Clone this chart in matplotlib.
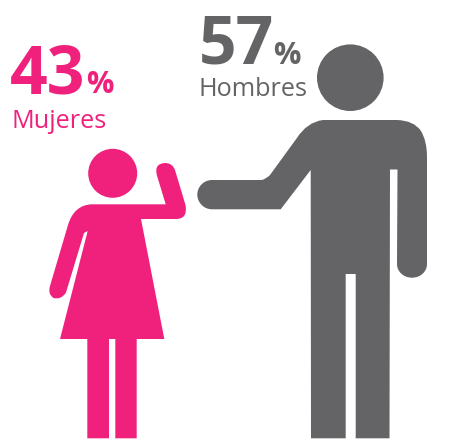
import matplotlib
matplotlib.use("Agg")
import matplotlib.pyplot as plt
from matplotlib.path import Path
from matplotlib.patches import PathPatch, Circle

# data
percents = [43, 57]
labels = ["Mujeres", "Hombres"]
colors = ["#F0217D", "#646466"]


def shape(steps):
    # steps: (x, y) line, (cx, cy, x, y) quadratic, (c1x, c1y, c2x, c2y, x, y) cubic
    verts, codes = [], []
    for i, s in enumerate(steps):
        if len(s) == 2:
            verts.append(s)
            codes.append(Path.MOVETO if i == 0 else Path.LINETO)
        elif len(s) == 4:
            verts += [s[:2], s[2:]]
            codes += [Path.CURVE3] * 2
        else:
            verts += [s[:2], s[2:4], s[4:]]
            codes += [Path.CURVE4] * 3
    verts.append(verts[0])
    codes.append(Path.CLOSEPOLY)
    return Path(verts, codes)


# woman outline in image pixels
woman_body = [
    (91.7, 204.3), (165.7, 204.3), (156.8, 175),
    (154, 163.5, 165, 163), (172.5, 163, 175, 170),
    (185.5, 205), (188, 219, 176, 219), (141, 219),
    (164.3, 339), (136.7, 339), (136.7, 438.3), (115.3, 438.3), (115.3, 339),
    (109, 339), (109, 438.3), (87.3, 438.3), (87.3, 339), (60, 339),
    (87.7, 231), (84, 233), (66, 292.5),
    (61.5, 300, 53.5, 298), (47.5, 294, 50, 286),
    (68, 225), (74, 205, 91.7, 204.3),
]

# man outline in image pixels
man_body = [
    (323, 120), (397, 120), (414, 120.5, 421, 131), (427, 141, 427, 157), (427, 264),
    (427, 272, 420, 277.7, 412, 277.7), (404, 277.7, 397, 272, 397, 264),
    (397.5, 169.5), (390, 169.5),
    (389.5, 438.3), (355.7, 438.3), (355.7, 274), (345.7, 274), (345.7, 438.3),
    (311, 438.3), (310.7, 170), (280.7, 209.3), (212, 209.3),
    (204, 209.3, 197.3, 202.7, 197.3, 194.6), (197.3, 186.5, 204, 180, 212, 180),
    (261.7, 180), (266, 179, 270, 175), (296.7, 138.3), (307, 122, 323, 120),
]

plt.rcParams["font.family"] = ["Open Sans", "DejaVu Sans"]

fig = plt.figure(figsize=(4.54, 4.42), dpi=100)
ax = fig.add_axes([0, 0, 1, 1])
ax.set_xlim(0, 454)
ax.set_ylim(442, 0)
ax.axis("off")

ax.add_patch(Circle((112.7, 173.3), 24.5, fc=colors[0], ec="none"))
ax.add_patch(PathPatch(shape(woman_body), fc=colors[0], ec="none"))
ax.add_patch(Circle((350.3, 77.7), 33.3, fc=colors[1], ec="none"))
ax.add_patch(PathPatch(shape(man_body), fc=colors[1], ec="none"))

# x of number, x of %, baseline of number, x of label, baseline of label
text_pos = [(10, 86.5, 93, 11, 127.5), (199, 273.5, 64, 198.5, 96)]
for pct, lab, col, (xn, xp, yn, xl, yl) in zip(percents, labels, colors, text_pos):
    ax.text(xn, yn, str(pct), color=col, fontsize=47.5, fontweight="bold", va="baseline")
    ax.text(xp, yn, "%", color=col, fontsize=22, fontweight="bold", va="baseline")
    ax.text(xl, yl, lab, color=col, fontsize=18.2, va="baseline")

fig.savefig("out.png", dpi=100)
